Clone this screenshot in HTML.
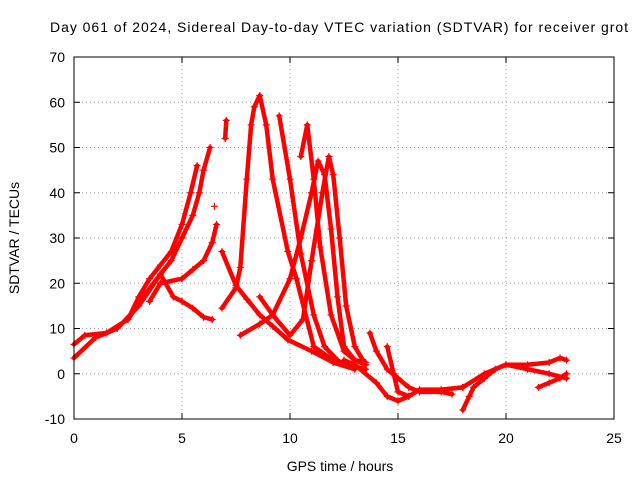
<!DOCTYPE html>
<html><head><meta charset="utf-8"><style>
html,body{margin:0;padding:0;background:#fff;}
svg{display:block;font-family:"Liberation Sans",sans-serif;}
</style></head><body>
<svg id="chart" width="640" height="480">
<text x="50" y="32" font-size="14" textLength="578">Day 061 of 2024, Sidereal Day-to-day VTEC variation (SDTVAR) for receiver grot</text>
<g id="grid"></g>
<g id="axes"></g>
<g id="series"></g>
<rect x="74" y="57" width="540" height="362" fill="none" stroke="#000" stroke-width="1"/>
<text x="340" y="471" font-size="14" text-anchor="middle">GPS time / hours</text>
<text transform="translate(19,238) rotate(-90)" font-size="14" text-anchor="middle">SDTVAR / TECUs</text>
</svg>
<script>
const xTicks = [0,5,10,15,20,25];
const yTicks = [-10,0,10,20,30,40,50,60,70];
const track01 = [[0,3.5],[1,8],[2,10],[3,15],[4,22],[4.5,25],[5,30],[5.5,35],[5.8,40],[6,45],[6.3,50]];
const track02 = [[0,6.5],[0.5,8.5],[1.5,9],[2.5,12],[3,17],[3.5,21],[4,24],[4.5,27],[5,33],[5.4,40],[5.7,46]];
const track03 = [[2.5,12],[3.2,17],[4,22],[4.6,17],[5,16],[5.5,14.5],[6,12.5],[6.4,12]];
const track04 = [[3.5,16],[4,20],[5,21],[5.5,23],[6,25],[6.4,29],[6.6,33]];
const track05 = [[7,52],[7.05,56]];
const track06 = [[6.85,27],[7.5,19.5],[8,16.5],[8.6,13],[9.2,10.5],[9.9,7.5],[11,5],[12,2.5],[13,1]];
const track07 = [[6.85,14.5],[7.5,19],[7.7,23.5],[8,43],[8.2,55],[8.35,59],[8.6,61.5],[8.9,55],[9.2,43],[9.9,27],[10.3,21],[11.1,6],[12,3],[13,1.5]];
const track08 = [[7.7,8.5],[8.6,11],[9.2,13],[10,21],[10.5,30],[11,40],[11.3,47],[11.6,44],[11.9,32],[12.2,17],[12.5,6],[13,3],[13.5,2]];
const track10 = [[9.5,57],[10,43],[10.5,26.5],[11.1,13],[11.6,6],[12.3,2.5],[13.5,1]];
const track11 = [[8.6,17],[9.2,13],[10,8.5],[10.6,12],[11,25],[11.5,40],[11.8,48],[12,44],[12.3,30],[12.6,15],[13,6],[13.5,2]];
const track12 = [[10.5,48],[10.8,55],[11.1,43],[11.4,28],[11.9,13],[12.5,5],[13,3],[13.5,2.5]];
const track13 = [[13.7,9],[14,5],[14.5,1],[15,-1],[15.5,-3],[16,-4],[17,-4],[17.5,-4.5]];
const track14 = [[14.5,6],[14.8,0],[15,-4],[15.5,-5]];
const track15 = [[12.5,3],[13,2],[14,-2],[14.5,-5],[15,-6],[15.5,-5],[16,-3.5],[17,-3.5],[18,-3]];
const track16 = [[18,-8],[18.3,-5],[18.5,-3],[19,-1],[19.5,1],[20,2],[21,1],[22,0],[22.8,-1]];
const track17 = [[18,-3],[19,0],[20,2],[21,2],[22,2.5],[22.5,3.5],[22.8,3]];
const track18 = [[21.5,-3],[22,-2],[22.5,-1],[22.8,0]];
const track19 = [[6.5,37]];
const tracks = [track01,track02,track03,track04,track05,track06,track07,track08,track10,track11,track12,track13,track14,track15,track16,track17,track18,track19];

const X0=74,X1=614,Y0=419,Y1=57;
function sx(v){return X0+(v-0)/(25-0)*(X1-X0);}
function sy(v){return Y0-(v-(-10))/(70-(-10))*(Y0-Y1);}
const NS="http://www.w3.org/2000/svg";
const grid=document.getElementById('grid'),axes=document.getElementById('axes'),ser=document.getElementById('series');
function mk(tag,attrs,parent){const e=document.createElementNS(NS,tag);for(const k in attrs)e.setAttribute(k,attrs[k]);parent.appendChild(e);return e;}
xTicks.forEach(t=>{
  const x=sx(t);
  if(t>0&&t<25){const g=mk('line',{x1:x,x2:x,y1:Y1,y2:Y0,stroke:'#a0a0a0','stroke-dasharray':'1,3'},grid);
  
  }
  mk('line',{x1:x,x2:x,y1:Y0,y2:Y0-6,stroke:'#000'},axes);
  mk('line',{x1:x,x2:x,y1:Y1,y2:Y1+6,stroke:'#000'},axes);
  const l=mk('text',{x:x,y:Y0+24,'font-size':14,'text-anchor':'middle'},axes);
  l.textContent=t;
  
  
});
yTicks.forEach(t=>{
  const y=sy(t);
  if(t>-10&&t<70){const g=mk('line',{x1:X0,x2:X1,y1:y,y2:y,stroke:'#a0a0a0','stroke-dasharray':'1,3'},grid);
  
  }
  mk('line',{x1:X0,x2:X0+6,y1:y,y2:y,stroke:'#000'},axes);
  mk('line',{x1:X1,x2:X1-6,y1:y,y2:y,stroke:'#000'},axes);
  const l=mk('text',{x:X0-9,y:y+5,'font-size':14,'text-anchor':'end'},axes);
  l.textContent=t;
  
  
});
tracks.forEach(tr=>{
  const pts=tr.map(p=>sx(p[0])+','+sy(p[1])).join(' ');
  if(tr.length>1){
    const pl=mk('polyline',{points:pts,fill:'none',stroke:'#ff0000','stroke-width':4.5,'stroke-linejoin':'round','stroke-linecap':'round'},ser);
    
    
  }
  tr.forEach(p=>{
    const x=sx(p[0]),y=sy(p[1]);
    const m=mk('path',{d:`M${x-3.5},${y}H${x+3.5}M${x},${y-3.5}V${y+3.5}`,stroke:'#ff0000','stroke-width':1.2},ser);
    
    
  });
});
</script>
</body></html>
